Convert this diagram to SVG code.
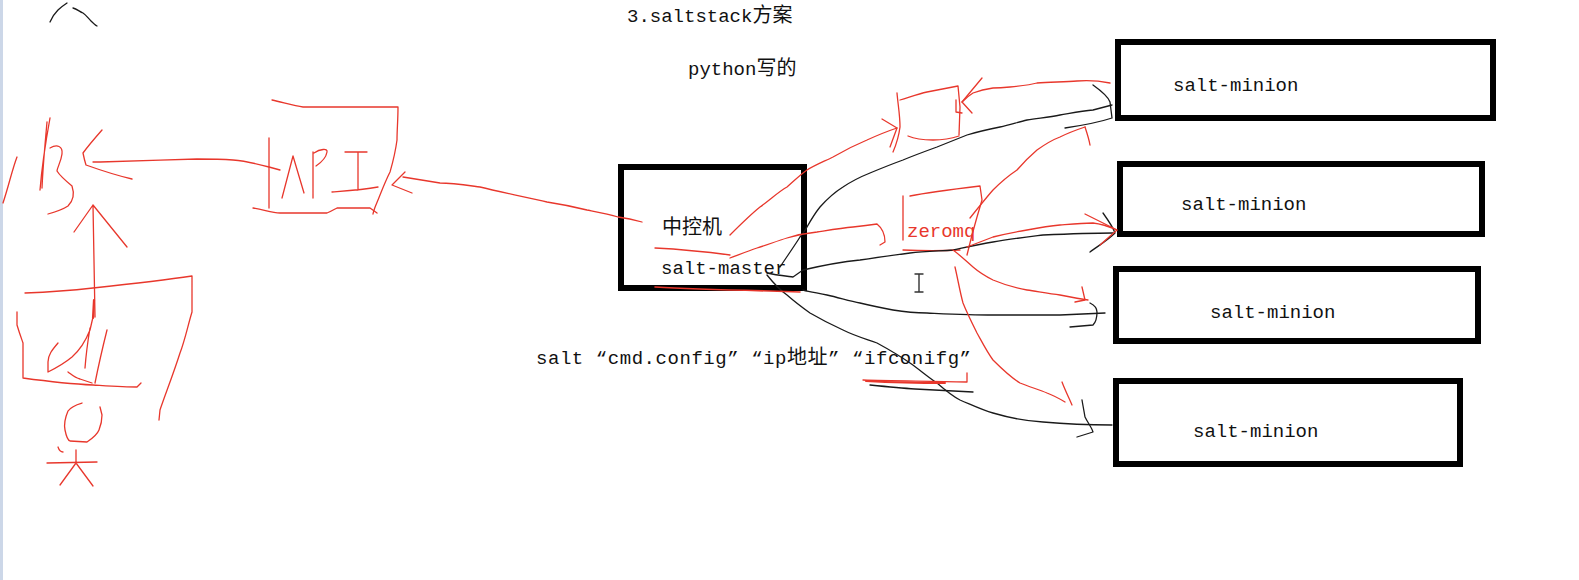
<svg xmlns="http://www.w3.org/2000/svg" width="1579" height="580" viewBox="0 0 1579 580">
<style>
.box{fill:#fff;stroke:#000;stroke-width:6}
.t{font-family:"Liberation Mono","Noto Sans CJK SC",monospace;font-size:19px;fill:#111}
.cjk{font-family:"Noto Sans CJK SC",sans-serif;font-size:20px}
.r{fill:none;stroke:#e8372c;stroke-width:1.3;stroke-linecap:round;stroke-linejoin:round}
.k{fill:none;stroke:#1a1a1a;stroke-width:1.3;stroke-linecap:round;stroke-linejoin:round}
</style>
<rect width="1579" height="580" fill="#fff"/>
<rect x="0" y="0" width="3" height="580" fill="#ccd7e8"/>

<!-- titles -->
<text class="t" x="627" y="22">3.saltstack<tspan class="cjk">方案</tspan></text>
<text class="t" x="688" y="75">python<tspan class="cjk">写的</tspan></text>
<text class="t" x="536" y="364" textLength="435" lengthAdjust="spacing">salt “cmd.config” “ip<tspan class="cjk">地址</tspan>” “ifconifg”</text>

<!-- nodes -->
<g id="master">
<rect class="box" x="621" y="167" width="183" height="121"/>
<text class="t" x="662" y="234"><tspan class="cjk">中控机</tspan></text>
<text class="t" x="661" y="274">salt-master</text>
</g>
<g id="minion1">
<rect class="box" x="1118" y="42" width="375" height="76"/>
<text class="t" x="1173" y="91">salt-minion</text>
</g>
<g id="minion2">
<rect class="box" x="1120" y="164" width="362" height="70"/>
<text class="t" x="1181" y="210">salt-minion</text>
</g>
<g id="minion3">
<rect class="box" x="1116" y="269" width="362" height="72"/>
<text class="t" x="1210" y="318">salt-minion</text>
</g>
<g id="minion4">
<rect class="box" x="1116" y="381" width="344" height="83"/>
<text class="t" x="1193" y="437">salt-minion</text>
</g>

<!-- zeromq -->
<g id="zeromq">
<text class="t" x="907" y="237" style="fill:#e8372c">zeromq</text>
<path class="r" d="M903,196 L903,240 M910,196 C930,192 955,189 980,186 L982,200 L977,217 L972,235 L967,255 M903,250 C925,251 940,251 960,250"/>
</g>

<!-- API box (hand drawn) -->
<g id="api">
<path class="r" d="M272,100 C285,103 295,106 303,107 L398,107 C398,120 397,130 397,140 C395,155 392,165 390,172 C386,180 382,190 380,195 C377,203 374,208 373,214"/>
<path class="r" d="M269,138 L269,208 M253,208 C265,210 272,213 280,213 L327,213 C332,211 335,209 337,208 L370,208 L377,213"/>
<path class="r" d="M282,198 L293,156 L304,193 M313,152 L313,198 M314,153 C320,149 328,148 327,152 C326,158 322,162 316,166 M345,152 L367,152 M358,153 L358,190 M332,192 C345,191 362,190 378,187"/>
</g>

<!-- hand-drawn figures on the left -->
<g id="left-sketch">
<path class="k" d="M50,22 C52,17 55,13 58,10 C61,7 64,5 67,3 M73,8 C77,9 80,12 83,13 C86,15 88,18 91,21 C93,23 95,25 97,26"/>
<path class="r" d="M17,157 C12,170 9,185 3,203 M50,118 C46,140 42,165 40,190 M47,122 C45,145 43,165 42,188 M50,148 C57,144 63,146 62,154 C61,162 57,168 57,171 C60,176 66,181 72,186 C74,192 74,200 68,206 C62,210 55,212 48,214"/>
<path class="r" d="M95,317 L93,205 M74,232 L93,205 L127,247"/>
<path class="r" d="M94,300 L93,318" style="stroke-width:2.2"/>
<path class="r" d="M25,293 C50,292 75,290 93,288 C130,284 165,280 192,276 L192,312 C188,325 185,340 180,353 C173,375 165,395 160,410 L159,420 M17,312 L17,325 C20,335 22,340 23,343 L23,378 C45,381 70,384 93,385 C110,386 125,387 137,387 L141,383"/>
<path class="r" d="M58,343 C52,350 48,355 48,362 L48,372 C58,367 66,362 72,357 C80,350 86,340 90,330 L93,317 M85,368 C86,355 88,340 90,328 M107,330 C102,350 98,368 95,383 M68,372 C72,375 75,378 80,379 L92,383"/>
<path class="r" d="M82,403 C75,405 70,408 68,411 C65,418 64,425 65,430 C66,435 67,440 70,441 L87,442 C93,438 97,435 99,430 C101,425 102,420 102,415 L100,407 M58,447 C59,450 61,452 63,452 M47,463 L97,462 M76,450 L76,463 M76,463 L60,485 M76,463 L93,486"/>
</g>

<!-- cursor -->
<path class="k" d="M919,274 L919,292 M915,274 L923,274 M915,292 L923,292" style="stroke:#333;stroke-width:1.4"/>

<!-- connectors -->
<g id="connectors">
<!-- black master -> minions -->
<path class="k" d="M780,267 C788,255 795,245 800,237 C804,232 806,229 807,227 C812,218 816,212 820,207 C828,198 835,192 843,187 C852,181 860,177 870,173 C882,168 892,164 903,160 C915,155 926,151 937,147 C947,143 957,139 967,135 C980,131 990,129 1000,127 C1010,125 1018,122 1027,120 C1040,118 1050,117 1060,115 C1072,113 1082,111 1093,110 L1112,105"/>
<path class="k" d="M1093,85 C1100,90 1108,96 1110,102 L1112,118 C1100,122 1085,125 1065,128"/>
<path class="k" d="M767,273 C775,275 785,276 793,277 L803,270 C820,266 840,262 860,260 C880,257 895,255 910,253 C925,251 940,251 953,250 C967,247 980,244 993,242 C1010,239 1027,237 1043,235 C1065,234 1090,233 1113,233"/>
<path class="k" d="M1103,213 C1108,220 1113,227 1115,233 C1108,240 1098,246 1090,252"/>
<path class="k" d="M803,290 C810,292 818,293 827,295 C840,298 850,301 860,303 C872,306 882,308 893,310 C905,312 915,313 927,313 C950,314 970,315 993,315 L1060,315 L1105,313"/>
<path class="k" d="M1090,303 C1094,305 1097,308 1097,312 C1097,318 1096,322 1093,325 L1070,327"/>
<path class="k" d="M767,275 C775,285 780,290 787,295 C795,302 803,308 810,313 C822,320 832,325 843,330 C855,336 866,339 877,343 C888,349 900,356 910,363 C920,370 928,377 937,383 C945,390 952,396 960,400 C972,405 982,410 993,413 C1010,418 1025,421 1043,422 C1065,424 1090,425 1112,425"/>
<path class="k" d="M1082,400 C1083,406 1084,411 1085,417 C1088,423 1092,428 1093,432 L1077,437"/>
<path class="k" d="M870,385 C890,387 900,388 915,389 C935,390 955,391 973,392"/>

<!-- red strokes -->
<path class="r" d="M730,235 C740,225 750,215 760,207 C770,200 778,192 787,187 C795,180 800,175 807,170 C815,165 825,161 833,157 C845,150 855,145 867,140 C878,135 888,131 897,128"/>
<path class="r" d="M882,119 L897,128 L890,147"/>
<path class="r" d="M897,93 C898,105 900,115 900,127 C899,135 896,145 893,152"/>
<path class="r" d="M900,100 C910,97 918,94 927,92 C937,90 948,88 958,86 L960,107 L959,135 M908,136 C915,139 925,140 933,140 C945,140 953,138 959,136"/>
<path class="r" d="M956,100 L956,112 L962,113"/>
<path class="r" d="M1110,83 C1100,81 1088,80 1077,81 C1065,82 1050,82 1037,83 C1030,85 1020,86 1010,87 C1000,88 995,88 993,88 C985,89 978,91 973,93 C968,96 965,99 962,102"/>
<path class="r" d="M982,78 L962,102 L972,113"/>
<path class="r" d="M970,218 C978,208 986,198 993,190 C1001,182 1008,176 1017,170 C1023,163 1030,156 1037,150 C1044,145 1052,140 1060,137 C1068,133 1076,130 1085,127"/>
<path class="r" d="M1085,127 C1087,133 1089,139 1090,145"/>
<path class="r" d="M730,258 C738,255 748,251 757,248 C767,245 777,241 787,238 C797,235 807,233 817,232 C830,230 842,228 853,227 C862,226 870,225 877,224 C882,228 885,235 885,242 L880,245"/>
<path class="r" d="M967,247 C975,244 985,240 993,237 C1005,234 1015,232 1027,230 C1038,228 1050,226 1060,225 C1072,224 1082,223 1093,223 C1102,224 1110,227 1117,230"/>
<path class="r" d="M1085,214 L1117,230 L1100,245"/>
<path class="r" d="M953,250 C960,255 967,262 973,267 C980,273 987,277 993,280 C1005,285 1015,288 1027,290 C1040,292 1050,294 1060,295 C1070,297 1080,299 1088,300"/>
<path class="r" d="M1082,287 L1085,300 L1075,302"/>
<path class="r" d="M955,267 C958,280 960,292 963,303 C967,313 972,323 977,333 C982,342 987,352 993,360 C1002,369 1010,377 1020,383 C1030,387 1040,390 1047,393 C1055,396 1060,399 1065,402"/>
<path class="r" d="M1062,382 C1065,390 1069,398 1072,405"/>
<path class="r" d="M863,380 C890,381 920,381 967,382 L967,373"/>
<path class="r" d="M866,381 C885,382 910,383 945,383" style="stroke-width:2"/>
<path class="r" d="M655,248 C675,249 700,251 730,255"/>
<path class="r" d="M655,287 C690,289 730,290 770,291 L800,292" style="stroke-width:1.6"/>
<path class="r" d="M642,222 C635,220 626,218 618,217 C608,214 597,212 587,210 C575,207 560,204 547,202 C525,197 500,192 480,187 C465,185 452,183 440,183 C428,181 415,179 403,177"/>
<path class="r" d="M405,172 L392,185 L412,193"/>
<path class="r" d="M269,167 C258,164 245,161 233,160 C220,159 210,159 197,159 C165,160 130,161 100,162 L93,162 M102,130 C95,138 88,146 83,153 C84,158 85,162 86,165 C100,170 115,175 132,179 M269,167 L280,170"/>
</g>
</svg>
